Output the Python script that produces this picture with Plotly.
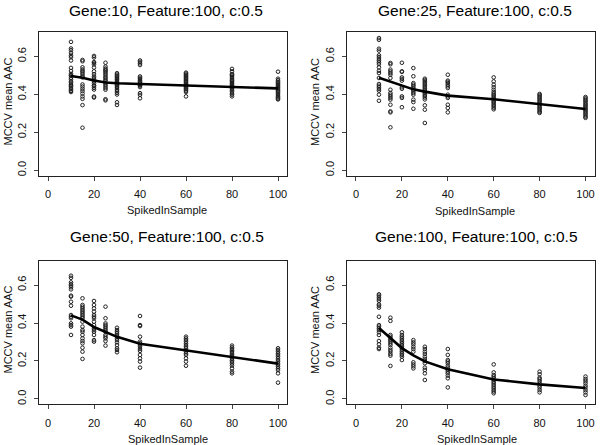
import plotly.graph_objects as go

spiked_in = [10, 15, 20, 25, 30, 40, 60, 80, 100]

gene10_aac = [
    [0.676, 0.641, 0.632, 0.618, 0.604, 0.596, 0.578, 0.539, 0.523, 0.508, 0.501, 0.497, 0.487, 0.479, 0.468, 0.461, 0.452, 0.447, 0.441, 0.433, 0.426, 0.418, 0.412],
    [0.581, 0.574, 0.542, 0.531, 0.523, 0.516, 0.507, 0.496, 0.489, 0.452, 0.441, 0.429, 0.417, 0.404, 0.389, 0.376, 0.343, 0.224],
    [0.602, 0.594, 0.570, 0.566, 0.558, 0.541, 0.521, 0.506, 0.494, 0.486, 0.477, 0.469, 0.458, 0.447, 0.444, 0.434, 0.425, 0.388, 0.383],
    [0.566, 0.546, 0.536, 0.529, 0.524, 0.516, 0.509, 0.500, 0.491, 0.484, 0.476, 0.469, 0.459, 0.451, 0.442, 0.433, 0.424, 0.374, 0.368],
    [0.511, 0.504, 0.498, 0.493, 0.487, 0.481, 0.476, 0.469, 0.463, 0.458, 0.451, 0.446, 0.439, 0.433, 0.424, 0.417, 0.408, 0.399, 0.358, 0.344],
    [0.578, 0.571, 0.563, 0.554, 0.494, 0.487, 0.481, 0.474, 0.467, 0.461, 0.456, 0.449, 0.446, 0.438, 0.406, 0.397, 0.379],
    [0.514, 0.509, 0.503, 0.498, 0.494, 0.488, 0.483, 0.479, 0.472, 0.468, 0.463, 0.457, 0.452, 0.448, 0.441, 0.437, 0.431, 0.426, 0.419, 0.412, 0.389],
    [0.534, 0.521, 0.507, 0.503, 0.498, 0.491, 0.484, 0.476, 0.471, 0.466, 0.459, 0.454, 0.448, 0.442, 0.436, 0.429, 0.421, 0.414, 0.405, 0.398, 0.389],
    [0.519, 0.482, 0.474, 0.466, 0.461, 0.455, 0.449, 0.444, 0.438, 0.433, 0.427, 0.421, 0.416, 0.409, 0.402, 0.396, 0.389, 0.383, 0.377, 0.373],
]
gene10_line = [0.496, 0.487, 0.473, 0.462, 0.458, 0.454, 0.449, 0.441, 0.431]

gene25_aac = [
    [0.696, 0.687, 0.640, 0.630, 0.605, 0.596, 0.586, 0.577, 0.568, 0.559, 0.542, 0.524, 0.512, 0.486, 0.454, 0.445, 0.437, 0.428, 0.419, 0.398, 0.366],
    [0.565, 0.558, 0.530, 0.521, 0.512, 0.503, 0.486, 0.424, 0.407, 0.398, 0.389, 0.381, 0.372, 0.345, 0.310, 0.305, 0.226],
    [0.566, 0.521, 0.518, 0.489, 0.481, 0.472, 0.437, 0.429, 0.389, 0.381, 0.332],
    [0.538, 0.495, 0.459, 0.451, 0.443, 0.434, 0.424, 0.416, 0.407, 0.398, 0.372, 0.359, 0.324],
    [0.482, 0.476, 0.468, 0.461, 0.453, 0.446, 0.438, 0.431, 0.423, 0.414, 0.407, 0.398, 0.391, 0.383, 0.373, 0.342, 0.319, 0.249],
    [0.503, 0.472, 0.466, 0.459, 0.451, 0.442, 0.433, 0.398, 0.389, 0.381, 0.345, 0.328, 0.305],
    [0.489, 0.468, 0.451, 0.437, 0.424, 0.412, 0.403, 0.396, 0.389, 0.381, 0.374, 0.366, 0.359, 0.352, 0.344, 0.337, 0.329, 0.321],
    [0.402, 0.396, 0.389, 0.383, 0.376, 0.369, 0.362, 0.356, 0.349, 0.342, 0.335, 0.328, 0.321, 0.314, 0.307, 0.302],
    [0.386, 0.379, 0.372, 0.366, 0.358, 0.351, 0.344, 0.337, 0.331, 0.324, 0.318, 0.311, 0.304, 0.297, 0.289, 0.282, 0.276],
]
gene25_line = [0.487, 0.466, 0.444, 0.426, 0.414, 0.393, 0.374, 0.349, 0.323]

gene50_aac = [
    [0.649, 0.638, 0.614, 0.604, 0.596, 0.588, 0.577, 0.544, 0.539, 0.512, 0.491, 0.442, 0.433, 0.425, 0.398, 0.389, 0.381, 0.337],
    [0.530, 0.495, 0.486, 0.477, 0.468, 0.460, 0.451, 0.442, 0.433, 0.425, 0.407, 0.381, 0.363, 0.354, 0.337, 0.319, 0.305, 0.293, 0.270, 0.249, 0.211],
    [0.516, 0.495, 0.477, 0.460, 0.442, 0.433, 0.425, 0.407, 0.389, 0.372, 0.363, 0.354, 0.337, 0.310, 0.302],
    [0.486, 0.425, 0.398, 0.389, 0.381, 0.372, 0.363, 0.354, 0.337, 0.328, 0.319, 0.305, 0.281],
    [0.375, 0.363, 0.354, 0.346, 0.337, 0.328, 0.319, 0.310, 0.298, 0.284, 0.267, 0.258, 0.246],
    [0.437, 0.389, 0.384, 0.328, 0.302, 0.293, 0.284, 0.275, 0.263, 0.253, 0.232, 0.214, 0.197, 0.165],
    [0.328, 0.319, 0.311, 0.302, 0.293, 0.284, 0.275, 0.267, 0.258, 0.249, 0.240, 0.232, 0.214, 0.197, 0.175],
    [0.281, 0.272, 0.264, 0.256, 0.249, 0.241, 0.233, 0.226, 0.219, 0.211, 0.203, 0.195, 0.186, 0.176, 0.161, 0.144, 0.135],
    [0.267, 0.258, 0.249, 0.240, 0.232, 0.223, 0.214, 0.205, 0.197, 0.188, 0.179, 0.170, 0.161, 0.152, 0.135, 0.086],
]
gene50_line = [0.440, 0.418, 0.379, 0.353, 0.327, 0.291, 0.256, 0.221, 0.186]

gene100_aac = [
    [0.551, 0.544, 0.535, 0.526, 0.517, 0.498, 0.491, 0.481, 0.433, 0.389, 0.381, 0.372, 0.363, 0.351, 0.337, 0.305, 0.288, 0.270, 0.263],
    [0.428, 0.411, 0.337, 0.328, 0.319, 0.310, 0.302, 0.293, 0.284, 0.270, 0.258, 0.249, 0.237, 0.228, 0.174],
    [0.351, 0.337, 0.328, 0.319, 0.310, 0.302, 0.293, 0.284, 0.275, 0.267, 0.258, 0.249, 0.240, 0.232, 0.223, 0.205],
    [0.310, 0.298, 0.288, 0.275, 0.263, 0.249, 0.193, 0.182, 0.172, 0.161],
    [0.275, 0.263, 0.249, 0.237, 0.223, 0.211, 0.200, 0.188, 0.165, 0.153, 0.135, 0.100],
    [0.263, 0.232, 0.205, 0.197, 0.188, 0.175, 0.165, 0.153, 0.144, 0.135, 0.123, 0.109, 0.061],
    [0.182, 0.140, 0.126, 0.118, 0.109, 0.100, 0.091, 0.083, 0.074, 0.065, 0.056, 0.047, 0.039, 0.030],
    [0.144, 0.130, 0.112, 0.105, 0.095, 0.083, 0.070, 0.060, 0.047, 0.035],
    [0.118, 0.105, 0.095, 0.083, 0.070, 0.060, 0.047, 0.035, 0.021],
]
gene100_line = [0.374, 0.321, 0.268, 0.230, 0.198, 0.156, 0.103, 0.077, 0.058]

titles = ["Gene:10, Feature:100, c:0.5", "Gene:25, Feature:100, c:0.5",
          "Gene:50, Feature:100, c:0.5", "Gene:100, Feature:100, c:0.5"]

W, H = 600, 445
FONT = "Liberation Sans, Arial, Helvetica, sans-serif"

# pixel boxes of each panel: (left, right, top, bottom)
boxes = [(38.8, 287.2, 32.0, 175.6), (346.8, 594.7, 32.0, 175.6),
         (38.8, 287.2, 260.7, 404.3), (346.8, 594.7, 260.7, 404.3)]
# title, x label, y label centres in pixels
title_pos = [(166, 10), (475, 10), (167, 236), (476, 236)]
xlab_pos = [(167, 210), (475, 211), (168, 439), (477, 439)]
ylab_pos = [(7.5, 102), (315, 102), (7.5, 330), (315, 330)]

fig = go.Figure()

panels = [(gene10_aac, gene10_line), (gene25_aac, gene25_line),
          (gene50_aac, gene50_line), (gene100_aac, gene100_line)]

for i, (aac, line_vals) in enumerate(panels):
    suffix = "" if i == 0 else str(i + 1)
    xs, ys = [], []
    for xv, col in zip(spiked_in, aac):
        xs += [xv] * len(col)
        ys += col
    fig.add_trace(go.Scatter(
        x=xs, y=ys, mode="markers",
        marker=dict(symbol="circle-open", size=3.6, color="#222", line=dict(width=1)),
        xaxis="x" + suffix, yaxis="y" + suffix, showlegend=False, hoverinfo="skip"
    ))
    fig.add_trace(go.Scatter(
        x=spiked_in, y=line_vals, mode="lines",
        line=dict(color="black", width=2.6),
        xaxis="x" + suffix, yaxis="y" + suffix, showlegend=False
    ))

    l, r, t, b = boxes[i]
    fig.layout["xaxis" + suffix] = dict(
        domain=[l / W, r / W], anchor="y" + suffix,
        range=[-4, 104], tickvals=[0, 20, 40, 60, 80, 100],
        showgrid=False, zeroline=False, showline=True, mirror=True,
        linecolor="#222", linewidth=1, ticks="outside", ticklen=4, tickcolor="#444",
        ticklabelstandoff=4,
        tickfont=dict(family=FONT, size=11, color="#111")
    )
    fig.layout["yaxis" + suffix] = dict(
        domain=[1 - b / H, 1 - t / H], anchor="x" + suffix,
        range=[-0.028, 0.728], tickvals=[0, 0.2, 0.4, 0.6], tickformat=".1f",
        tickangle=-90,
        showgrid=False, zeroline=False, showline=True, mirror=True,
        linecolor="#222", linewidth=1, ticks="outside", ticklen=4, tickcolor="#444",
        ticklabelstandoff=3,
        tickfont=dict(family=FONT, size=11, color="#111")
    )

    tx, ty = title_pos[i]
    fig.add_annotation(x=tx / W, y=1 - ty / H, xref="paper", yref="paper",
                       xanchor="center", yanchor="middle",
                       text=titles[i], showarrow=False,
                       font=dict(family=FONT, size=15.5, color="black"))
    lx, ly = xlab_pos[i]
    fig.add_annotation(x=lx / W, y=1 - ly / H, xref="paper", yref="paper",
                       xanchor="center", yanchor="middle",
                       text="SpikedInSample", showarrow=False,
                       font=dict(family=FONT, size=11, color="#111"))
    vx, vy = ylab_pos[i]
    fig.add_annotation(x=vx / W, y=1 - vy / H, xref="paper", yref="paper",
                       xanchor="center", yanchor="middle",
                       text="MCCV mean AAC", showarrow=False, textangle=-90,
                       font=dict(family=FONT, size=11, color="#111"))

fig.update_layout(
    width=W, height=H,
    margin=dict(l=0, r=0, t=0, b=0),
    paper_bgcolor="white", plot_bgcolor="white",
)

# page body has a default 8px margin; drop it so the figure sits at the window origin
fig.write_html("out.html", config={"displayModeBar": False},
               post_script="document.body.style.margin='0px';")
